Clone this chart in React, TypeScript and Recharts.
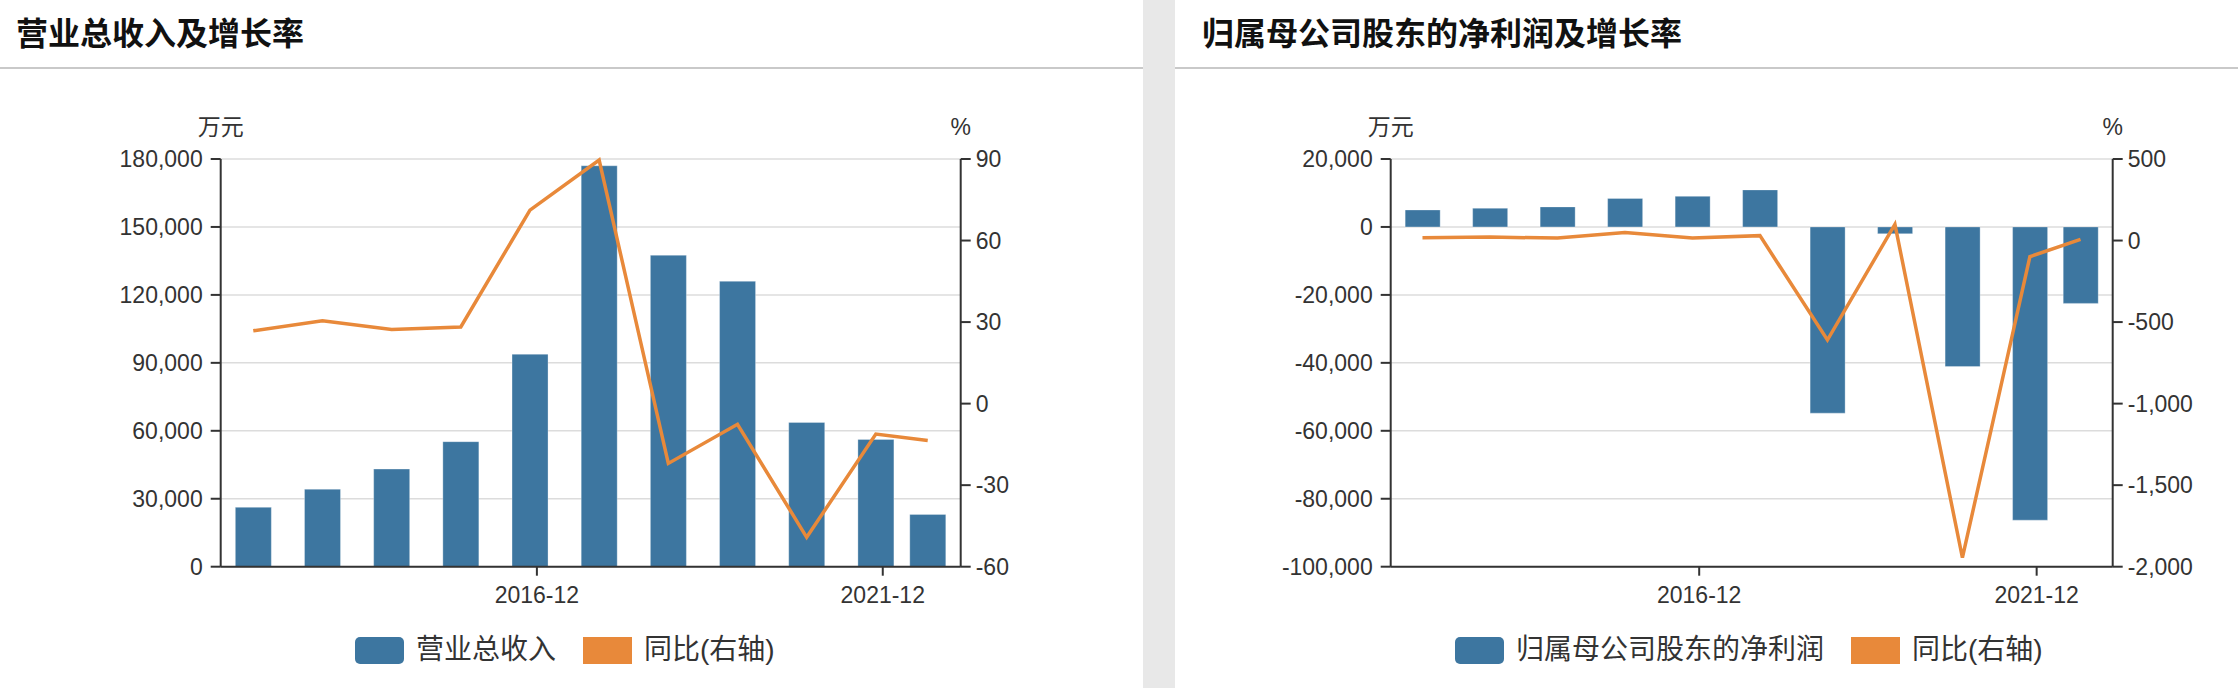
import React from 'react';
import { ComposedChart, Bar, Line, XAxis, YAxis, CartesianGrid, Legend } from 'recharts';

// ---- data ----
const periods = ['2012-12', '2013-12', '2014-12', '2015-12', '2016-12', '2017-12', '2018-12', '2019-12', '2020-12', '2021-12', '2022-09'];
const revenue = [26200, 34200, 43100, 55200, 93800, 177000, 137500, 126000, 63700, 56200, 23100];
const revenueYoY = [26.8, 30.5, 27.3, 28.2, 71.2, 89.6, -22.0, -7.6, -49.2, -11.2, -13.6];
const netProfit = [5000, 5500, 5900, 8400, 9000, 10900, -54800, -2000, -41100, -86300, -22500];
const netProfitYoY = [17, 21, 15, 50, 15, 30, -610, 99, -1945, -99, 7];
const xTickLabels = ['2016-12', '2021-12'];
const revenueTicks = [0, 30000, 60000, 90000, 120000, 150000, 180000];
const revenueYoYTicks = [-60, -30, 0, 30, 60, 90];
const profitTicks = [-100000, -80000, -60000, -40000, -20000, 0, 20000];
const profitYoYTicks = [-2000, -1500, -1000, -500, 0, 500];

const BLUE = '#3d76a0';
const ORANGE = '#e8893a';
const AXIS = '#333333';
const FONT = '"Liberation Sans", Arial, "Noto Sans CJK SC", sans-serif';
const CJK = '"Liberation Sans", Arial, "Noto Sans CJK SC", sans-serif';

const PAD_L = 5.65;
const PAD_R = 5.72;
const TICK_SHIFT = 1.2;

const toMonth = (s: string) => {
  const [y, m] = s.split('-').map(Number);
  return y * 12 + (m - 1);
};
const fmt = (v: number) => v.toLocaleString('en-US');

type ChartProps = {
  width: number;
  height: number;
  margin: { top: number; right: number; bottom: number; left: number };
  barValues: number[];
  lineValues: number[];
  leftTicks: number[];
  rightTicks: number[];
  barName: string;
  barSize: number;
  legendLeft: number;
};

function LegendBox({ barName }: { barName: string }) {
  return (
    <div style={{ display: 'flex', alignItems: 'center', fontFamily: CJK, fontSize: 28, color: '#333', whiteSpace: 'nowrap', lineHeight: '30px', height: 30 }}>
      <span style={{ display: 'inline-block', width: 49, height: 27, background: BLUE, borderRadius: 5 }} />
      <span style={{ marginLeft: 12 }}>{barName}</span>
      <span style={{ display: 'inline-block', width: 49, height: 27, background: ORANGE, marginLeft: 27 }} />
      <span style={{ marginLeft: 12 }}>同比(右轴)</span>
    </div>
  );
}

function FinChart(p: ChartProps) {
  const data = periods.map((d, i) => ({ x: toMonth(d), bar: p.barValues[i], yoy: p.lineValues[i] }));
  const domainX = [toMonth(periods[0]) - PAD_L, toMonth(periods[periods.length - 1]) + PAD_R];
  const xTicks = xTickLabels.map((l) => toMonth(l) + TICK_SHIFT);
  const labelFor = (v: number) => {
    const i = xTicks.findIndex((t) => Math.abs(t - v) < 1e-6);
    return i >= 0 ? xTickLabels[i] : '';
  };
  const tickStyle = { fill: '#333', fontSize: 23, fontFamily: FONT };
  const lineStyle = { stroke: AXIS, strokeWidth: 2 };
  return (
    <ComposedChart width={p.width} height={p.height} data={data} margin={p.margin}>
      <CartesianGrid yAxisId="left" vertical={false} stroke="#dcdcdc" strokeWidth={1.5} />
      <XAxis
        dataKey="x"
        type="number"
        domain={domainX}
        allowDataOverflow
        ticks={xTicks}
        interval={0}
        tickFormatter={labelFor}
        axisLine={lineStyle}
        tickLine={lineStyle}
        tickSize={9}
        tickMargin={11}
        tick={tickStyle}
        height={50}
      />
      <YAxis
        yAxisId="left"
        orientation="left"
        width={100}
        domain={[p.leftTicks[0], p.leftTicks[p.leftTicks.length - 1]]}
        ticks={p.leftTicks}
        interval={0}
        tickFormatter={fmt}
        axisLine={lineStyle}
        tickLine={lineStyle}
        tickSize={10}
        tickMargin={8}
        tick={tickStyle}
      />
      <YAxis
        yAxisId="right"
        orientation="right"
        width={100}
        domain={[p.rightTicks[0], p.rightTicks[p.rightTicks.length - 1]]}
        ticks={p.rightTicks}
        interval={0}
        tickFormatter={fmt}
        axisLine={lineStyle}
        tickLine={lineStyle}
        tickSize={10}
        tickMargin={5}
        tick={tickStyle}
      />
      <Bar yAxisId="left" dataKey="bar" name={p.barName} fill={BLUE} stroke="rgba(255,255,255,0.3)" strokeWidth={1} barSize={p.barSize} isAnimationActive={false} />
      <Line yAxisId="right" dataKey="yoy" name="同比(右轴)" type="linear" stroke={ORANGE} strokeWidth={3.5} dot={false} activeDot={false} isAnimationActive={false} />
      <Legend
        layout="horizontal"
        verticalAlign="middle"
        align="center"
        wrapperStyle={{ top: 635, left: p.legendLeft, width: 'auto', height: 30 }}
        content={() => <LegendBox barName={p.barName} />}
      />
    </ComposedChart>
  );
}

function Panel({ left, width, title, titleLeft, children, units }: any) {
  return (
    <div style={{ position: 'absolute', left, top: 0, width, height: 688, background: '#fff', overflow: 'hidden' }}>
      <div style={{ position: 'absolute', left: titleLeft, top: 14, height: 40, lineHeight: '40px', fontSize: 32, fontWeight: 700, color: '#111', fontFamily: CJK, whiteSpace: 'nowrap' }}>
        {title}
      </div>
      <div style={{ position: 'absolute', left: 0, top: 67, width, height: 2, background: '#c9c9c9' }} />
      {units.map((u: any, i: number) => (
        <div key={i} style={{ position: 'absolute', left: u.x - 50, width: 100, top: 112, height: 30, lineHeight: '30px', textAlign: 'center', fontSize: 23, color: '#333', fontFamily: CJK }}>
          {u.text}
        </div>
      ))}
      <div style={{ position: 'absolute', left: 0, top: 0 }}>{children}</div>
    </div>
  );
}

export default function App() {
  return (
    <div style={{ position: 'absolute', left: 0, top: 0, width: 2238, height: 688, background: '#e8e8e8', overflow: 'hidden' }}>
      <Panel left={0} width={1143} title="营业总收入及增长率" titleLeft={16} units={[{ x: 220.7, text: '万元' }, { x: 960.7, text: '%' }]}>
        <FinChart
          width={1143}
          height={688}
          margin={{ top: 159, right: 82.3, bottom: 71.3, left: 120.7 }}
          barValues={revenue}
          lineValues={revenueYoY}
          leftTicks={revenueTicks}
          rightTicks={revenueYoYTicks}
          barName="营业总收入"
          barSize={36}
          legendLeft={355}
        />
      </Panel>
      <Panel left={1175} width={1063} title="归属母公司股东的净利润及增长率" titleLeft={27} units={[{ x: 215.7, text: '万元' }, { x: 937.7, text: '%' }]}>
        <FinChart
          width={1063}
          height={688}
          margin={{ top: 159, right: 25.3, bottom: 71.3, left: 115.7 }}
          barValues={netProfit}
          lineValues={netProfitYoY}
          leftTicks={profitTicks}
          rightTicks={profitYoYTicks}
          barName="归属母公司股东的净利润"
          barSize={35}
          legendLeft={280}
        />
      </Panel>
    </div>
  );
}
